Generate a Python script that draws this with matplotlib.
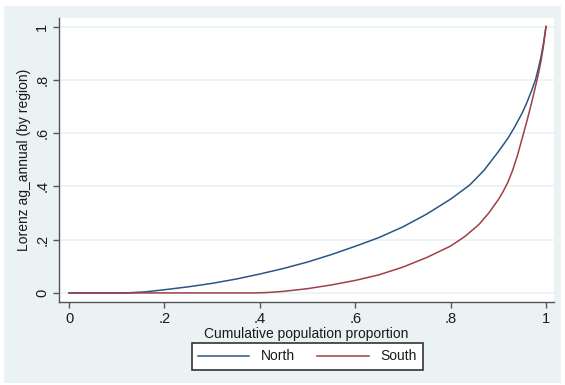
import matplotlib
matplotlib.use("Agg")
import matplotlib.pyplot as plt
from matplotlib.patches import Rectangle

# ---- data ----
north_x = [0.0, 0.12, 0.16, 0.2, 0.25, 0.3, 0.35, 0.4, 0.45, 0.5, 0.55, 0.6, 0.65, 0.7,
           0.75, 0.8, 0.84, 0.87, 0.9, 0.92, 0.935, 0.95, 0.96, 0.97, 0.978, 0.985,
           0.99, 0.995, 1.0]
north_y = [0.0, 0.0, 0.004, 0.012, 0.023, 0.036, 0.052, 0.071, 0.092, 0.116, 0.144,
           0.175, 0.208, 0.248, 0.296, 0.352, 0.405, 0.46, 0.53, 0.58, 0.625, 0.675,
           0.715, 0.76, 0.80, 0.85, 0.89, 0.94, 1.0]
south_x = [0.0, 0.39, 0.42, 0.45, 0.5, 0.55, 0.6, 0.65, 0.7, 0.75, 0.8, 0.83, 0.86,
           0.88, 0.9, 0.91, 0.92, 0.93, 0.94, 0.95, 0.96, 0.97, 0.98, 0.985, 0.99,
           0.995, 1.0]
south_y = [0.0, 0.0, 0.002, 0.006, 0.016, 0.030, 0.047, 0.068, 0.097, 0.133, 0.176,
           0.212, 0.258, 0.30, 0.35, 0.38, 0.415, 0.46, 0.515, 0.58, 0.645, 0.715,
           0.79, 0.83, 0.875, 0.93, 1.0]

x_ticks = [0, 0.2, 0.4, 0.6, 0.8, 1.0]
x_tick_labels = ["0", ".2", ".4", ".6", ".8", "1"]
y_ticks = [0, 0.2, 0.4, 0.6, 0.8, 1.0]
y_tick_labels = ["0", ".2", ".4", ".6", ".8", "1"]
series_names = ["North", "South"]

x_title = "Cumulative population proportion"
y_title = "Lorenz ag_annual (by region)"

# ---- styling ----
plt.rcParams['font.family'] = ['Liberation Sans', 'DejaVu Sans']
W, H = 565, 385
fig = plt.figure(figsize=(W / 100, H / 100), dpi=100, facecolor="white")

bg = "#EAF2F3"
fig.patches.append(Rectangle((4 / W, 2 / H), (561 - 4) / W, (381 - 4) / H,
                             transform=fig.transFigure, facecolor=bg,
                             edgecolor="none", zorder=-10))

ax = fig.add_axes([59 / W, 1 - 302 / H, (554 - 59) / W, (302 - 18) / H])
ax.set_zorder(5)
ax.set_facecolor("white")

navy = "#2A5684"
maroon = "#A03F46"
l1, = ax.plot(north_x, north_y, color=navy, lw=1.1, label=series_names[0], zorder=3)
l2, = ax.plot(south_x, south_y, color=maroon, lw=1.1, label=series_names[1], zorder=3)

ax.set_xlim(-0.021, 1.0168)
ax.set_ylim(-0.034, 1.032)

ax.set_xticks(x_ticks)
ax.set_xticklabels(x_tick_labels, fontsize=10.5)
ax.set_yticks(y_ticks)
ax.set_yticklabels(y_tick_labels, fontsize=10.5, rotation=90, va="center")

ax.grid(axis="y", color=bg, lw=1.2, zorder=1)
ax.set_axisbelow(True)

for s in ["top", "right"]:
    ax.spines[s].set_visible(False)
for s in ["left", "bottom"]:
    ax.spines[s].set_color("#555555")
    ax.spines[s].set_linewidth(1.0)

ax.tick_params(axis="both", direction="out", length=4, width=1.0, color="#555555",
               labelcolor="#1a1a1a", pad=3)

ax.set_xlabel(x_title, fontsize=10, color="#1a1a1a", labelpad=1)
ax.set_ylabel(y_title, fontsize=10, color="#1a1a1a", labelpad=3)

leg = fig.legend(handles=[l1, l2], labels=series_names, loc="center",
                 bbox_to_anchor=(307.5 / W, 1 - 356.5 / H), ncol=2, fontsize=10,
                 frameon=True, fancybox=False, handlelength=3.7, handletextpad=0.85,
                 columnspacing=1.6, borderpad=0.45)
leg.set_zorder(6)
leg.get_frame().set_edgecolor("#333333")
leg.get_frame().set_linewidth(1.2)
leg.get_frame().set_facecolor("white")
leg.get_frame().set_alpha(1.0)
for t in leg.get_texts():
    t.set_color("#1a1a1a")

fig.savefig("out.png", dpi=100, facecolor="white")
